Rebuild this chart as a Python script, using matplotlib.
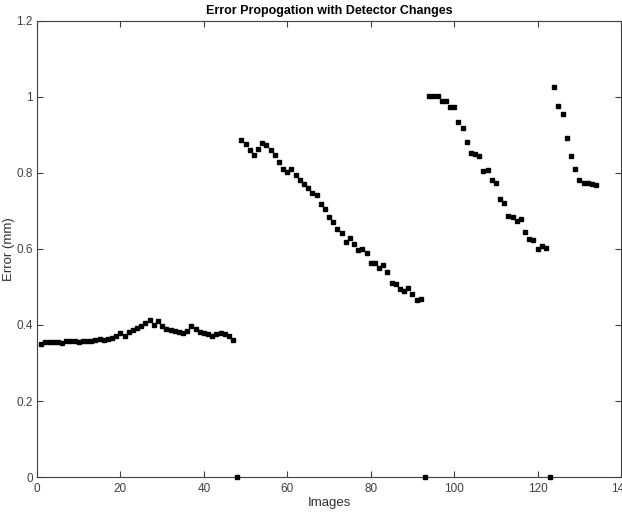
import numpy as np
import matplotlib
matplotlib.use("Agg")
import matplotlib.pyplot as plt

# error readings, one series per detector setting
seg1 = [0.350, 0.354, 0.355, 0.354, 0.354, 0.352, 0.357, 0.358, 0.357, 0.355,
        0.358, 0.358, 0.359, 0.361, 0.364, 0.360, 0.362, 0.367, 0.371, 0.378,
        0.372, 0.381, 0.388, 0.393, 0.397, 0.404, 0.414, 0.400, 0.411, 0.397,
        0.389, 0.386, 0.384, 0.381, 0.378, 0.385, 0.398, 0.389, 0.382, 0.378,
        0.376, 0.372, 0.376, 0.379, 0.376, 0.371, 0.361]
seg2 = [0.887, 0.876, 0.859, 0.848, 0.863, 0.878, 0.872, 0.861, 0.846, 0.829,
        0.811, 0.801, 0.811, 0.795, 0.782, 0.771, 0.760, 0.746, 0.742, 0.717,
        0.705, 0.685, 0.672, 0.652, 0.642, 0.618, 0.628, 0.614, 0.597, 0.599,
        0.589, 0.562, 0.564, 0.549, 0.558, 0.540, 0.510, 0.508, 0.494, 0.488,
        0.497, 0.481, 0.466, 0.468]
seg3 = [1.002, 1.001, 1.002, 0.990, 0.990, 0.974, 0.974, 0.933, 0.918, 0.880,
        0.853, 0.849, 0.845, 0.806, 0.807, 0.780, 0.774, 0.731, 0.721, 0.687,
        0.685, 0.673, 0.678, 0.644, 0.625, 0.623, 0.601, 0.608, 0.603]
seg4 = [1.025, 0.977, 0.955, 0.891, 0.843, 0.810, 0.781, 0.774, 0.772, 0.771,
        0.769]
seg_starts = [1, 49, 94, 124]
change_images = [48, 93, 123]   # detector changes, error recorded as 0

plt.rcParams['font.family'] = ['Liberation Sans', 'DejaVu Sans']

fig = plt.figure(figsize=(6.22, 5.18), dpi=100)
ax = fig.add_axes([0.0595, 0.079, 0.939, 0.881])

x_all, y_all = [], []
for start, seg in zip(seg_starts, [seg1, seg2, seg3, seg4]):
    x_all += list(range(start, start + len(seg)))
    y_all += seg
x_all += change_images
y_all += [0] * len(change_images)

ax.plot(x_all, y_all, 's', color='black', markersize=2.2, clip_on=False,
        zorder=5)

ax.set_xlim(0, 140)
ax.set_ylim(0, 1.2)
ax.set_xticks(np.arange(0, 141, 20))
ax.set_yticks(np.arange(0, 1.21, 0.2))
ax.set_yticklabels(['0', '0.2', '0.4', '0.6', '0.8', '1', '1.2'])
ax.tick_params(direction='in', length=4, width=0.8, top=True, right=True,
               labelsize=8.5, colors='#404040', labelcolor='#404040')
ax.tick_params(axis='y', pad=3)
ax.tick_params(axis='x', pad=4)
for s in ax.spines.values():
    s.set_color('#404040')
    s.set_linewidth(0.8)

ax.set_title('Error Propogation with Detector Changes', fontsize=9,
             fontweight='bold', pad=5)
ax.set_xlabel('Images', fontsize=9.5, color='#303030', labelpad=2)
ax.set_ylabel('Error (mm)', fontsize=9.5, color='#303030')
ax.yaxis.set_label_coords(-0.038, 0.5)

fig.savefig('out.png', dpi=100)
